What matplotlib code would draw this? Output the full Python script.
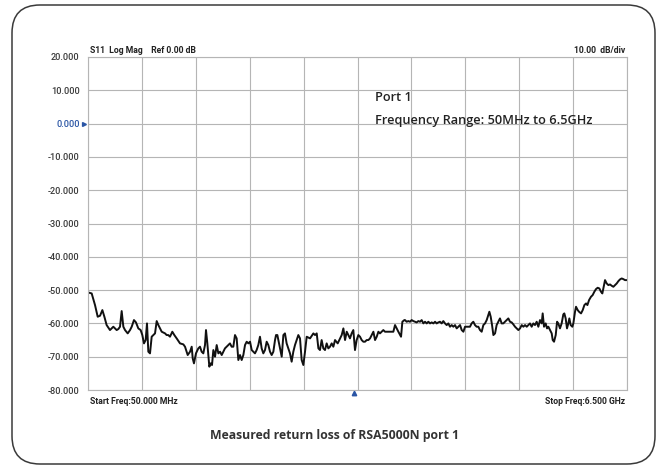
import matplotlib
matplotlib.use("Agg")
import matplotlib.pyplot as plt
from matplotlib.patches import FancyBboxPatch

# trace: frequency (GHz) and S11 (dB)
freq_ghz = [
    0.05, 0.094, 0.134, 0.166, 0.194, 0.222, 0.246, 0.273, 0.313, 0.353,
    0.393, 0.413, 0.433, 0.453, 0.473, 0.493, 0.525, 0.553, 0.573, 0.600,
    0.624, 0.652, 0.680, 0.700, 0.720, 0.740, 0.756, 0.772, 0.792, 0.812,
    0.832, 0.852, 0.872, 0.892, 0.932, 0.972, 0.991, 1.011, 1.031, 1.059,
    1.083, 1.111, 1.151, 1.191, 1.211, 1.243, 1.271, 1.291, 1.303, 1.318,
    1.342, 1.370, 1.390, 1.410, 1.430, 1.450, 1.462, 1.478, 1.502, 1.518,
    1.534, 1.550, 1.570, 1.590, 1.610, 1.630, 1.650, 1.670, 1.689, 1.709,
    1.729, 1.749, 1.769, 1.789, 1.809, 1.829, 1.849, 1.869, 1.889, 1.909,
    1.929, 1.949, 1.969, 1.989, 2.009, 2.029, 2.048, 2.068, 2.088, 2.108,
    2.128, 2.148, 2.168, 2.188, 2.208, 2.228, 2.248, 2.268, 2.288, 2.300,
    2.316, 2.340, 2.368, 2.388, 2.407, 2.427, 2.467, 2.487, 2.507, 2.527,
    2.547, 2.567, 2.587, 2.607, 2.627, 2.647, 2.667, 2.707, 2.747, 2.767,
    2.787, 2.807, 2.826, 2.846, 2.866, 2.886, 2.906, 2.926, 2.946, 2.966,
    2.986, 3.006, 3.038, 3.066, 3.086, 3.106, 3.126, 3.146, 3.166, 3.185,
    3.205, 3.225, 3.245, 3.265, 3.285, 3.305, 3.325, 3.345, 3.365, 3.385,
    3.405, 3.425, 3.445, 3.465, 3.485, 3.505, 3.525, 3.544, 3.564, 3.584,
    3.604, 3.644, 3.684, 3.704, 3.724, 3.744, 3.764, 3.796, 3.812, 3.836,
    3.844, 3.863, 3.883, 3.903, 3.923, 3.943, 3.963, 3.983, 4.003, 4.023,
    4.043, 4.063, 4.083, 4.103, 4.123, 4.143, 4.163, 4.183, 4.203, 4.222,
    4.242, 4.262, 4.282, 4.302, 4.322, 4.342, 4.362, 4.382, 4.402, 4.422,
    4.442, 4.462, 4.482, 4.502, 4.522, 4.542, 4.562, 4.581, 4.621, 4.641,
    4.661, 4.681, 4.701, 4.721, 4.741, 4.761, 4.781, 4.801, 4.821, 4.841,
    4.853, 4.869, 4.885, 4.901, 4.921, 4.940, 4.960, 4.980, 5.000, 5.020,
    5.040, 5.060, 5.080, 5.100, 5.120, 5.140, 5.160, 5.180, 5.200, 5.220,
    5.240, 5.260, 5.280, 5.300, 5.319, 5.339, 5.359, 5.379, 5.399, 5.419,
    5.439, 5.459, 5.479, 5.491, 5.507, 5.527, 5.543, 5.559, 5.579, 5.599,
    5.611, 5.627, 5.647, 5.663, 5.678, 5.698, 5.718, 5.738, 5.750, 5.766,
    5.782, 5.798, 5.810, 5.826, 5.846, 5.858, 5.878, 5.890, 5.910, 5.926,
    5.950, 5.970, 5.990, 6.010, 6.026, 6.046, 6.069, 6.089, 6.109, 6.129,
    6.149, 6.169, 6.189, 6.205, 6.225, 6.237, 6.257, 6.277, 6.297, 6.317,
    6.337, 6.357, 6.377, 6.397, 6.416, 6.436, 6.456, 6.476, 6.500,
]
s11_db = [
    -50.7, -51.0, -54.5, -58.0, -57.7, -56.0, -58.0, -60.5, -62.0, -61.0,
    -62.0, -61.7, -61.0, -56.3, -61.0, -62.0, -63.0, -62.0, -61.0, -59.0,
    -59.7, -61.5, -62.0, -63.5, -66.0, -65.0, -60.0, -68.5, -69.0, -64.0,
    -63.5, -63.0, -59.3, -60.5, -62.5, -63.0, -63.5, -63.5, -64.0, -62.5,
    -63.5, -64.5, -66.0, -66.3, -67.0, -69.5, -68.5, -67.0, -70.5, -72.0,
    -69.0, -67.5, -67.0, -68.5, -69.0, -66.5, -62.0, -66.0, -73.0, -72.0,
    -72.5, -68.0, -70.0, -66.5, -69.0, -68.5, -69.5, -68.5, -67.5, -67.0,
    -66.5, -66.0, -67.0, -67.0, -63.5, -64.5, -71.0, -69.5, -71.0, -69.5,
    -66.5, -65.5, -66.0, -65.5, -68.0, -68.5, -69.0, -68.0, -66.5, -64.0,
    -67.5, -69.0, -68.0, -65.5, -66.5, -68.5, -69.5, -68.5, -65.0, -63.5,
    -63.5, -66.5, -70.0, -63.5, -63.0, -66.0, -69.0, -71.5, -68.5, -66.5,
    -65.0, -63.5, -64.5, -71.0, -72.5, -68.5, -64.0, -64.5, -63.0, -63.5,
    -63.0, -67.5, -68.0, -65.0, -67.5, -68.0, -66.0, -67.5, -67.0, -66.0,
    -67.0, -65.0, -66.0, -64.5, -63.5, -61.5, -65.0, -62.5, -63.5, -64.5,
    -63.0, -62.0, -68.0, -65.0, -63.5, -64.0, -65.0, -65.5, -65.5, -65.0,
    -65.0, -64.5, -63.5, -62.5, -65.0, -64.0, -62.5, -63.0, -62.5, -62.0,
    -62.5, -62.5, -62.5, -62.5, -60.5, -61.5, -62.5, -64.0, -59.5, -59.0,
    -59.0, -59.5, -59.3, -59.5, -59.0, -59.3, -59.5, -59.7, -59.3, -59.5,
    -59.0, -60.0, -59.5, -60.0, -59.5, -60.0, -59.7, -60.0, -59.5, -60.0,
    -59.7, -59.5, -60.0, -59.3, -60.0, -60.5, -60.0, -61.0, -60.5, -61.0,
    -60.5, -61.5, -61.0, -60.5, -62.0, -62.5, -61.0, -61.0, -61.0, -60.0,
    -59.5, -60.5, -61.0, -61.0, -62.0, -62.5, -60.5, -60.0, -59.0, -57.5,
    -56.5, -58.0, -60.5, -63.5, -63.0, -60.5, -59.5, -58.5, -60.0, -60.0,
    -59.5, -59.0, -58.5, -59.5, -59.7, -60.3, -61.0, -61.5, -62.0, -61.5,
    -60.5, -61.0, -60.5, -61.0, -60.5, -60.0, -61.0, -60.0, -60.5, -59.5,
    -61.0, -59.0, -60.0, -57.0, -61.0, -60.0, -61.5, -61.0, -62.0, -63.0,
    -65.0, -65.5, -63.5, -59.5, -60.0, -61.5, -60.0, -57.3, -57.0, -58.5,
    -61.5, -60.0, -58.5, -60.5, -61.0, -60.0, -56.5, -55.0, -56.0, -56.5,
    -57.0, -56.0, -54.5, -54.0, -54.5, -53.0, -52.0, -51.5, -50.5, -49.7,
    -49.3, -49.5, -50.5, -51.0, -48.5, -47.0, -48.0, -48.5, -48.3, -48.7,
    -49.0, -48.5, -48.0, -47.3, -46.8, -46.5, -46.7, -47.0, -47.0,
]

y_ticks = [20, 10, 0, -10, -20, -30, -40, -50, -60, -70, -80]
y_labels = ["20.000", "10.000", "0.000", "-10.000", "-20.000", "-30.000",
            "-40.000", "-50.000", "-60.000", "-70.000", "-80.000"]
start_ghz, stop_ghz = 0.05, 6.5
n_xdiv = 10
marker_ghz = 3.23

W, H = 664, 467
fig = plt.figure(figsize=(W / 100, H / 100), dpi=100)
fig.patch.set_facecolor("white")

# rounded outer frame, laid out in inches
frame = FancyBboxPatch((0.12, 0.03), 6.43, 4.59,
                       boxstyle="round,pad=0.0,rounding_size=0.28",
                       transform=fig.dpi_scale_trans, fill=False,
                       edgecolor="#3a3a3a", linewidth=1.1)
fig.patches.append(frame)

ax = fig.add_axes([88 / W, (H - 390) / H, 539 / W, 333 / H])
step = (stop_ghz - start_ghz) / n_xdiv
ax.set_xticks([start_ghz + i * step for i in range(n_xdiv + 1)])
ax.set_xticklabels([])
ax.set_yticks(y_ticks)
ax.set_yticklabels(y_labels)
ax.set_xlim(start_ghz, stop_ghz)
ax.set_ylim(-80, 20)
ax.grid(True, color="#b5b5b5", linewidth=0.8)
ax.tick_params(length=0, pad=6, labelsize=6.6, labelcolor="#3a3a3a")
for lab in ax.get_yticklabels():
    lab.set_fontfamily("Roboto")
    lab.set_fontweight("medium")
    if lab.get_text() == "0.000":
        lab.set_color("#2a55a5")
for sp in ax.spines.values():
    sp.set_color("#b5b5b5")
    sp.set_linewidth(0.8)

ax.plot(freq_ghz, s11_db, color="#111111", linewidth=1.4, solid_joinstyle="round")

# ref level pointer and marker
ax.plot([-0.007], [0], marker=">", markersize=2.8, color="#2a55a5",
        clip_on=False, transform=ax.get_yaxis_transform(), zorder=5)
ax.plot([marker_ghz], [-81.0], marker="^", markersize=3.2, color="#2a55a5",
        clip_on=False, zorder=5)

small = dict(fontsize=6.2, color="#222222", family="Roboto", fontweight="bold")
ax.text(0.004, 1.006, "S11  Log Mag    Ref 0.00 dB", transform=ax.transAxes,
        ha="left", va="bottom", **small)
ax.text(0.997, 1.006, "10.00  dB/div", transform=ax.transAxes,
        ha="right", va="bottom", **small)
ax.text(0.004, -0.022, "Start Freq:50.000 MHz", transform=ax.transAxes,
        ha="left", va="top", **small)
ax.text(0.997, -0.022, "Stop Freq:6.500 GHz", transform=ax.transAxes,
        ha="right", va="top", **small)

ax.text(3.485, 7.7, "Port 1", fontsize=9.2, color="#222222",
        family="Open Sans", fontweight="semibold", va="center", ha="left")
ax.text(3.485, 1.0, "Frequency Range: 50MHz to 6.5GHz", fontsize=9.2,
        color="#222222", family="Open Sans", fontweight="semibold",
        va="center", ha="left")

fig.text(334 / W, 1 - 436 / H, "Measured return loss of RSA5000N port 1",
         ha="center", va="center", fontsize=8.8, fontweight="bold",
         color="#333333", family="Open Sans")

fig.savefig("out.png", dpi=100)
